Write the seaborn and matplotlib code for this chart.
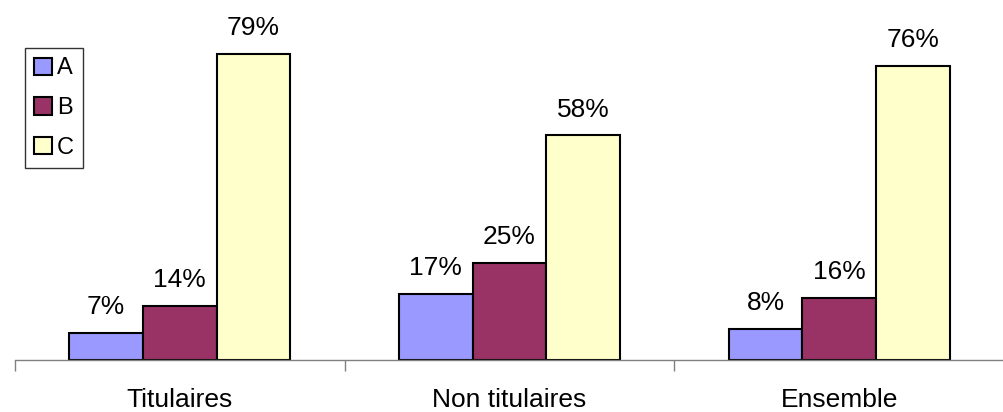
import pandas as pd
import seaborn as sns
import matplotlib.pyplot as plt

# chart values
categories = ["Titulaires", "Non titulaires", "Ensemble"]
series = ["A", "B", "C"]
a_vals = [7, 17, 8]
b_vals = [14, 25, 16]
c_vals = [79, 58, 76]
colors = ["#9999FF", "#993366", "#FFFFCC"]

rows = []
for s, vals in zip(series, [a_vals, b_vals, c_vals]):
    for cat, v in zip(categories, vals):
        rows.append({"cat": cat, "serie": s, "val": v})
df = pd.DataFrame(rows)

sns.set_style("white")
plt.rcParams['font.family'] = ['Liberation Sans', 'DejaVu Sans']
plt.rcParams['text.color'] = 'black'
plt.rcParams['xtick.color'] = 'black'

fig = plt.figure(figsize=(10.04, 4.12), dpi=100)
ax = fig.add_axes([15 / 1004, 52 / 412, 1 - 15 / 1004, 1 - 52 / 412])

sns.barplot(data=df, x="cat", y="val", hue="serie", palette=colors, saturation=1,
            width=0.67, edgecolor="black", linewidth=1.5, ax=ax, legend=True)

for cont in ax.containers:
    ax.bar_label(cont, labels=[f"{int(v)}%" for v in cont.datavalues],
                 padding=10, fontsize=19, color="black")

ax.set_xlim(-0.5, 2.5)
ax.set_ylim(0, 93)
ax.set_xlabel("")
ax.set_ylabel("")
ax.set_yticks([])
for sp in ["top", "right", "left"]:
    ax.spines[sp].set_visible(False)
ax.spines["bottom"].set_color("#808080")
ax.spines["bottom"].set_linewidth(1)

ax.set_xticks([-0.5, 0.5, 1.5, 2.5], minor=True)
ax.tick_params(axis="x", which="minor", bottom=True, length=8, color="#808080",
               width=1, direction="out")
ax.tick_params(axis="x", which="major", bottom=False, length=0, labelsize=19,
               labelcolor="black", pad=20)

handles, labels = ax.get_legend_handles_labels()
leg = ax.legend(handles, labels, loc="upper left",
                bbox_to_anchor=(25 / 1004, 1 - 48 / 412), bbox_transform=fig.transFigure,
                fontsize=17, frameon=True, fancybox=False, handlelength=0.75,
                handleheight=0.75, handletextpad=0.2, labelspacing=0.75,
                borderpad=0.4, borderaxespad=0)
leg.get_frame().set_edgecolor("black")
leg.get_frame().set_linewidth(1)
for t in leg.get_texts():
    t.set_color("black")

fig.savefig("out.png", dpi=100)
